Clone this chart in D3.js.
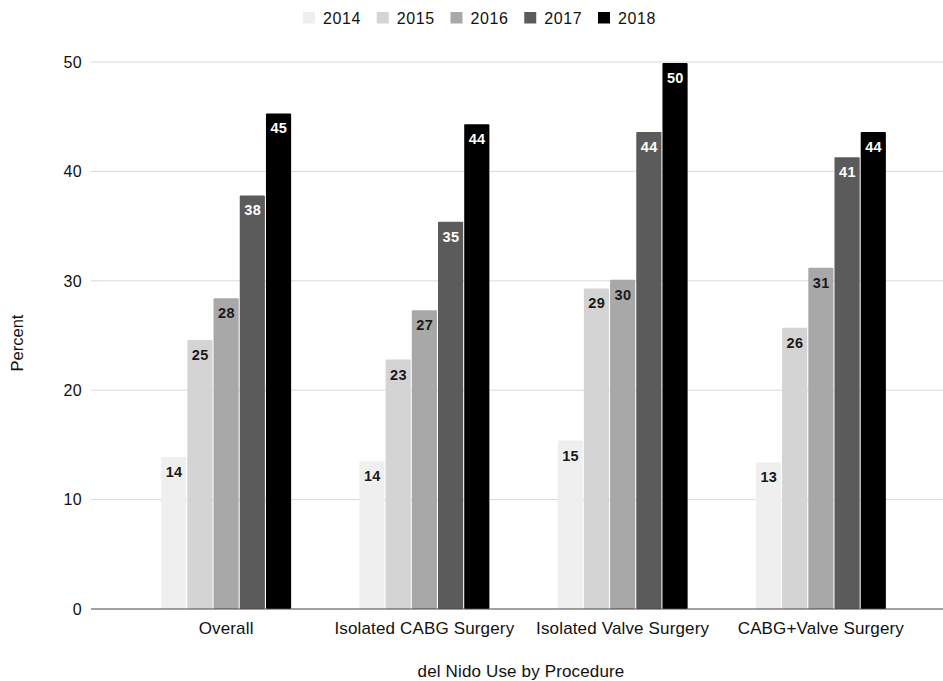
<!DOCTYPE html>
<html>
<head>
<meta charset="utf-8">
<script src="https://cdn.jsdelivr.net/npm/d3@7"></script>
<style>
  html, body { margin: 0; padding: 0; background: #fff; }
  svg { display: block; font-family: "Liberation Sans", Arial, Helvetica, sans-serif; }
</style>
</head>
<body>
<svg id="chart" width="943" height="681"></svg>
<script>
const categories = ["Overall", "Isolated CABG Surgery", "Isolated Valve Surgery", "CABG+Valve Surgery"];
const years = ["2014", "2015", "2016", "2017", "2018"];
const v2014 = [13.9, 13.5, 15.4, 13.4];
const v2015 = [24.6, 22.8, 29.3, 25.7];
const v2016 = [28.4, 27.3, 30.1, 31.2];
const v2017 = [37.8, 35.4, 43.6, 41.3];
const v2018 = [45.3, 44.3, 49.9, 43.6];
const yTicks = [0, 10, 20, 30, 40, 50];
const colors = ["#efefef", "#d4d4d4", "#a8a8a8", "#5b5b5b", "#000000"];
const labelColors = ["#1a1a1a", "#1a1a1a", "#1a1a1a", "#fff", "#fff"];
const xTitle = "del Nido Use by Procedure";
const yTitle = "Percent";

const series = [v2014, v2015, v2016, v2017, v2018];

const svg = d3.select("#chart");
const plotLeft = 91, plotRight = 943, plotTop = 62, plotBottom = 609;

const y = d3.scaleLinear().domain([0, 50]).range([plotBottom, plotTop]);
const x0 = d3.scaleBand().domain(categories).range([127, 920]);
const x1 = d3.scaleBand().domain(years).range([-65, 65]).paddingInner(0.04);
const color = d3.scaleOrdinal().domain(years).range(colors);

// gridlines
svg.append("g").selectAll("line")
  .data(yTicks.filter(t => t !== 0))
  .join("line")
  .attr("x1", plotLeft).attr("x2", plotRight)
  .attr("y1", d => y(d)).attr("y2", d => y(d))
  .attr("stroke", "#d9d9d9").attr("stroke-width", 1);

// y tick labels
svg.append("g").selectAll("text")
  .data(yTicks)
  .join("text")
  .attr("x", 82).attr("y", d => y(d) + 5.8)
  .attr("text-anchor", "end")
  .attr("font-size", 16)
  .attr("letter-spacing", 0.3)
  .attr("fill", "#111")
  .text(d => d);

// bars
const groups = svg.append("g").selectAll("g")
  .data(categories)
  .join("g")
  .attr("transform", c => `translate(${x0(c) + x0.bandwidth() / 2},0)`);

groups.each(function(c, ci) {
  const g = d3.select(this);
  const data = years.map((yr, si) => ({ yr, si, v: series[si][ci] }));
  g.selectAll("rect")
    .data(data)
    .join("rect")
    .attr("x", d => x1(d.yr))
    .attr("width", x1.bandwidth())
    .attr("y", d => y(d.v))
    .attr("height", d => y(0) - y(d.v))
    .attr("rx", 1)
    .attr("fill", d => color(d.yr));
  g.selectAll("text")
    .data(data)
    .join("text")
    .attr("x", d => x1(d.yr) + x1.bandwidth() / 2 + 0.3)
    .attr("y", d => y(d.v) + 20)
    .attr("text-anchor", "middle")
    .attr("font-size", 14.5)
    .attr("font-weight", "bold")
    .attr("letter-spacing", 0.3)
    .attr("fill", d => labelColors[d.si])
    .text(d => Math.round(d.v));
});

// baseline
svg.append("line")
  .attr("x1", plotLeft).attr("x2", plotRight)
  .attr("y1", y(0)).attr("y2", y(0))
  .attr("stroke", "#444").attr("stroke-width", 1.2);

// category labels
svg.append("g").selectAll("text")
  .data(categories)
  .join("text")
  .attr("x", c => x0(c) + x0.bandwidth() / 2)
  .attr("y", 634)
  .attr("text-anchor", "middle")
  .attr("font-size", 17)
  .attr("letter-spacing", 0.15)
  .attr("fill", "#111")
  .text(c => c);

// x title
svg.append("text")
  .attr("x", 521).attr("y", 677)
  .attr("text-anchor", "middle")
  .attr("font-size", 17)
  .attr("letter-spacing", 0.15)
  .attr("fill", "#111")
  .text(xTitle);

// y title
svg.append("text")
  .attr("transform", "translate(23,343) rotate(-90)")
  .attr("text-anchor", "middle")
  .attr("font-size", 16.5)
  .attr("fill", "#111")
  .text(yTitle);

// legend
const legend = svg.append("g").selectAll("g")
  .data(years)
  .join("g")
  .attr("transform", (d, i) => `translate(${303 + i * 73.75},0)`);
legend.append("rect")
  .attr("x", 0).attr("y", 12).attr("width", 12).attr("height", 11.5)
  .attr("fill", d => color(d));
legend.append("text")
  .attr("x", 20).attr("y", 24)
  .attr("font-size", 16)
  .attr("letter-spacing", 0.6)
  .attr("fill", "#111")
  .text(d => d);
</script>
</body>
</html>
